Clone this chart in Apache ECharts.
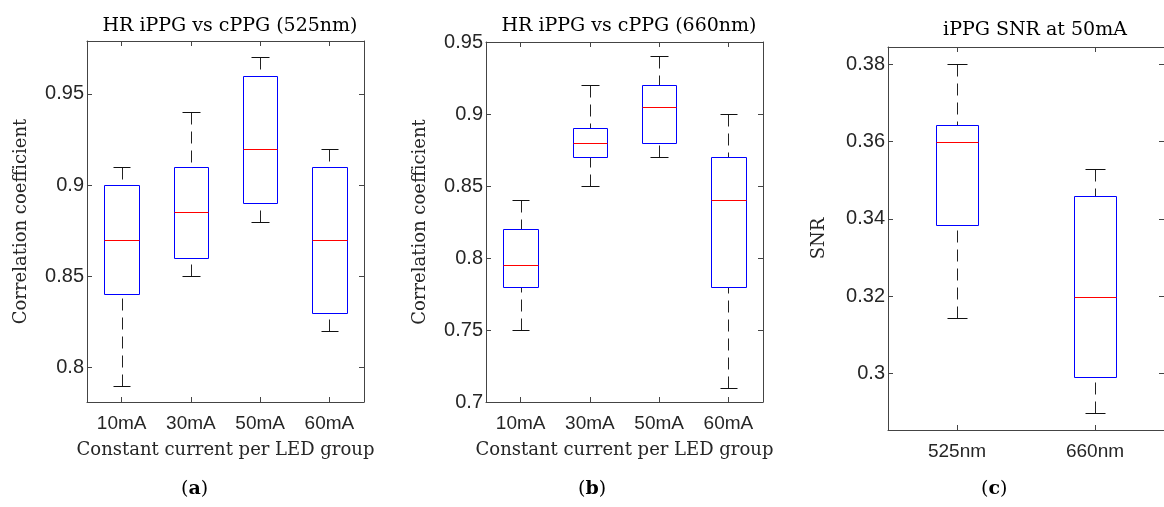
<!doctype html>
<html lang="en">
<head>
    <meta charset="UTF-8">
    <title>HR iPPG vs cPPG</title>
    <style>
        html, body { margin: 0; padding: 0; background: #fff; }
        #main { width: 1164px; height: 507px; }
    </style>
</head>
<body>
<div id="main"></div>
<script type="text/javascript" src="https://cdn.jsdelivr.net/npm/echarts@6/dist/echarts.min.js"></script>
<script type="text/javascript">
    var currents = ['10mA', '30mA', '50mA', '60mA'];
    var wavelengths = ['525nm', '660nm'];
    // each row: [lower whisker, q1, median, q3, upper whisker]
    var hr525 = [
        [0.79, 0.84, 0.87, 0.90, 0.91],
        [0.85, 0.86, 0.885, 0.91, 0.94],
        [0.88, 0.89, 0.92, 0.96, 0.97],
        [0.82, 0.83, 0.87, 0.91, 0.92]
    ];
    var hr660 = [
        [0.75, 0.78, 0.795, 0.82, 0.84],
        [0.85, 0.87, 0.88, 0.89, 0.92],
        [0.87, 0.88, 0.905, 0.92, 0.94],
        [0.71, 0.78, 0.84, 0.87, 0.90]
    ];
    var snr50 = [
        [0.3143, 0.3384, 0.3598, 0.3642, 0.38],
        [0.2899, 0.2992, 0.3197, 0.3459, 0.3529]
    ];
    var ticks525 = [0.8, 0.85, 0.9, 0.95];
    var ticks660 = [0.7, 0.75, 0.8, 0.85, 0.9, 0.95];
    var ticksSnr = [0.3, 0.32, 0.34, 0.36, 0.38];

    var axisColor = '#444';
    var textColor = '#262626';
    var serif = 'DejaVu Serif';
    var sans = 'Liberation Sans';

    function px(v) {
        return Math.round(v) + 0.5;
    }

    // box with dashed whiskers, MATLAB style
    function renderBox(boxFrac) {
        return function (params, api) {
            var i = api.value(0);
            var lo = api.coord([i, api.value(1)]);
            var q1 = api.coord([i, api.value(2)]);
            var md = api.coord([i, api.value(3)]);
            var q3 = api.coord([i, api.value(4)]);
            var hi = api.coord([i, api.value(5)]);
            var bw = api.size([1, 0])[0] * boxFrac;
            var cx = px(lo[0]);
            var l = px(lo[0] - bw / 2), r = px(lo[0] + bw / 2);
            var cl = px(lo[0] - bw / 4), cr = px(lo[0] + bw / 4);
            var yLo = px(lo[1]), yQ1 = px(q1[1]), yMd = px(md[1]), yQ3 = px(q3[1]), yHi = px(hi[1]);
            var dash = {stroke: '#222', lineWidth: 1, lineDash: [12, 7]};
            var solid = {stroke: '#111', lineWidth: 1};
            return {
                type: 'group',
                children: [
                    {type: 'line', shape: {x1: cx, y1: yHi, x2: cx, y2: yQ3}, style: dash},
                    {type: 'line', shape: {x1: cx, y1: yLo, x2: cx, y2: yQ1}, style: dash},
                    {type: 'line', shape: {x1: cl, y1: yHi, x2: cr, y2: yHi}, style: solid},
                    {type: 'line', shape: {x1: cl, y1: yLo, x2: cr, y2: yLo}, style: solid},
                    {type: 'rect', shape: {x: l, y: yQ3, width: r - l, height: yQ1 - yQ3},
                        style: {fill: 'none', stroke: '#0000ff', lineWidth: 1}},
                    {type: 'line', shape: {x1: l, y1: yMd, x2: r, y2: yMd}, style: {stroke: '#ff0000', lineWidth: 1}}
                ]
            };
        };
    }

    function toRows(stats) {
        return stats.map(function (s, i) {
            return [i].concat(s);
        });
    }

    function xAxes(idx, cats, name) {
        var tick = {show: true, inside: true, alignWithLabel: true, length: 5, lineStyle: {color: axisColor}};
        return [{
            type: 'category', gridIndex: idx, data: cats, position: 'bottom',
            axisLine: {lineStyle: {color: axisColor}},
            axisTick: tick,
            axisLabel: {color: textColor, fontFamily: sans, fontSize: 19, margin: 12},
            name: name, nameLocation: 'middle', nameGap: 39,
            nameTextStyle: {fontFamily: serif, fontSize: 18, color: textColor}
        }, {
            type: 'category', gridIndex: idx, data: cats, position: 'top',
            axisLine: {lineStyle: {color: axisColor}},
            axisTick: tick,
            axisLabel: {show: false}
        }];
    }

    function yAxes(idx, min, max, ticks, name, gap) {
        var tick = {show: true, inside: true, length: 5, lineStyle: {color: axisColor}, customValues: ticks};
        return [{
            type: 'value', gridIndex: idx, min: min, max: max, position: 'left',
            axisLine: {show: true, lineStyle: {color: axisColor}},
            axisTick: tick,
            axisLabel: {color: textColor, fontFamily: sans, fontSize: 20, margin: 3, customValues: ticks},
            splitLine: {show: false},
            name: name, nameLocation: 'middle', nameGap: gap, nameRotate: 90,
            nameTextStyle: {fontFamily: serif, fontSize: 18, color: textColor}
        }, {
            type: 'value', gridIndex: idx, min: min, max: max, position: 'right',
            axisLine: {show: true, lineStyle: {color: axisColor}},
            axisTick: tick,
            axisLabel: {show: false},
            splitLine: {show: false}
        }];
    }

    var chart = echarts.init(document.getElementById('main'));

    var xs = [].concat(
        xAxes(0, currents, 'Constant current per LED group'),
        xAxes(1, currents, 'Constant current per LED group'),
        xAxes(2, wavelengths, '')
    );
    var ys = [].concat(
        yAxes(0, 0.781, 0.979, ticks525, 'Correlation coefficient', 57),
        yAxes(1, 0.7, 0.95, ticks660, 'Correlation coefficient', 57),
        yAxes(2, 0.2854, 0.3844, ticksSnr, 'SNR', 60)
    );

    function titleAt(text, x, y) {
        return {
            text: text, left: x, top: y, textAlign: 'center',
            textStyle: {fontFamily: serif, fontSize: 19, fontWeight: 'normal', color: '#000'}
        };
    }

    function subLabel(letter, x) {
        return {
            type: 'text', left: x, top: 480,
            style: {
                text: '{n|(}{b|' + letter + '}{n|)}',
                rich: {
                    n: {fontFamily: serif, fontSize: 19, fill: '#000'},
                    b: {fontFamily: serif, fontSize: 19, fontWeight: 'bold', fill: '#000'}
                }
            }
        };
    }

    var option = {
        animation: false,
        title: [
            titleAt('HR iPPG vs cPPG (525nm)', 225, 12),
            titleAt('HR iPPG vs cPPG (660nm)', 624, 12),
            titleAt('iPPG SNR at 50mA', 1030, 16)
        ],
        grid: [
            {left: 87, top: 41, width: 277, height: 361},
            {left: 486, top: 42, width: 277, height: 360},
            {left: 888, top: 47, width: 286, height: 383}
        ],
        xAxis: xs,
        yAxis: ys,
        graphic: [
            subLabel('a', 181),
            subLabel('b', 578),
            subLabel('c', 981)
        ],
        series: [
            {type: 'custom', xAxisIndex: 0, yAxisIndex: 0, renderItem: renderBox(0.5), data: toRows(hr525), encode: {x: 0, y: [1, 5]}},
            {type: 'custom', xAxisIndex: 2, yAxisIndex: 2, renderItem: renderBox(0.5), data: toRows(hr660), encode: {x: 0, y: [1, 5]}},
            {type: 'custom', xAxisIndex: 4, yAxisIndex: 4, renderItem: renderBox(0.3), data: toRows(snr50), encode: {x: 0, y: [1, 5]}}
        ]
    };
    chart.setOption(option);
</script>
</body>
</html>
